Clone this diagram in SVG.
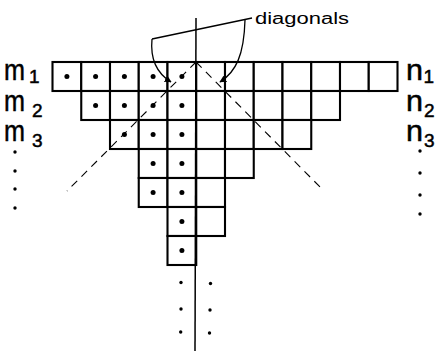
<svg xmlns="http://www.w3.org/2000/svg" width="446" height="351" viewBox="0 0 446 351">
<defs>
<style>
.cell{fill:#fff;stroke:#000;stroke-width:2.1}
.dot{fill:#000}
.lbl{font-family:"Liberation Sans",Arial,sans-serif;fill:#000;stroke:#000;stroke-width:0.5}
.big{font-size:30px}
.sub{font-size:19px}
.cap{font-family:"Liberation Sans",Arial,sans-serif;fill:#000;font-size:16px}
.ln{fill:none;stroke:#000;stroke-width:1.3}
.dash{fill:none;stroke:#000;stroke-width:1.1;stroke-dasharray:8 6}
</style>
<marker id="ah" viewBox="0 0 10 10" refX="9" refY="5" markerWidth="7" markerHeight="7" orient="auto" markerUnits="userSpaceOnUse">
<path d="M0,0 L10,5 L0,10 z" fill="#000"/>
</marker>
</defs>
<rect width="446" height="351" fill="#fff"/>

<g id="row1">
<rect class="cell" x="52.5" y="62" width="28.75" height="29"/>
<rect class="cell" x="81.25" y="62" width="28.75" height="29"/>
<rect class="cell" x="110" y="62" width="28.75" height="29"/>
<rect class="cell" x="138.75" y="62" width="28.75" height="29"/>
<rect class="cell" x="167.5" y="62" width="28.75" height="29"/>
<rect class="cell" x="196.25" y="62" width="28.75" height="29"/>
<rect class="cell" x="225" y="62" width="28.75" height="29"/>
<rect class="cell" x="253.75" y="62" width="28.75" height="29"/>
<rect class="cell" x="282.5" y="62" width="28.75" height="29"/>
<rect class="cell" x="311.25" y="62" width="28.75" height="29"/>
<rect class="cell" x="340" y="62" width="28.75" height="29"/>
<rect class="cell" x="368.75" y="62" width="28.75" height="29"/>
<circle class="dot" cx="66.9" cy="76.5" r="2.5"/>
<circle class="dot" cx="95.6" cy="76.5" r="2.5"/>
<circle class="dot" cx="124.4" cy="76.5" r="2.5"/>
<circle class="dot" cx="153.1" cy="76.5" r="2.5"/>
<circle class="dot" cx="181.9" cy="76.5" r="2.5"/>
</g>

<g id="row2">
<rect class="cell" x="81.25" y="91" width="28.75" height="29"/>
<rect class="cell" x="110" y="91" width="28.75" height="29"/>
<rect class="cell" x="138.75" y="91" width="28.75" height="29"/>
<rect class="cell" x="167.5" y="91" width="28.75" height="29"/>
<rect class="cell" x="196.25" y="91" width="28.75" height="29"/>
<rect class="cell" x="225" y="91" width="28.75" height="29"/>
<rect class="cell" x="253.75" y="91" width="28.75" height="29"/>
<rect class="cell" x="282.5" y="91" width="28.75" height="29"/>
<rect class="cell" x="311.25" y="91" width="28.75" height="29"/>
<circle class="dot" cx="95.6" cy="105.5" r="2.5"/>
<circle class="dot" cx="124.4" cy="105.5" r="2.5"/>
<circle class="dot" cx="153.1" cy="105.5" r="2.5"/>
<circle class="dot" cx="181.9" cy="105.5" r="2.5"/>
</g>

<g id="row3">
<rect class="cell" x="110" y="120" width="28.75" height="29"/>
<rect class="cell" x="138.75" y="120" width="28.75" height="29"/>
<rect class="cell" x="167.5" y="120" width="28.75" height="29"/>
<rect class="cell" x="196.25" y="120" width="28.75" height="29"/>
<rect class="cell" x="225" y="120" width="28.75" height="29"/>
<rect class="cell" x="253.75" y="120" width="28.75" height="29"/>
<rect class="cell" x="282.5" y="120" width="28.75" height="29"/>
<circle class="dot" cx="124.4" cy="134.5" r="2.5"/>
<circle class="dot" cx="153.1" cy="134.5" r="2.5"/>
<circle class="dot" cx="181.9" cy="134.5" r="2.5"/>
</g>

<g id="row4">
<rect class="cell" x="138.75" y="149" width="28.75" height="29"/>
<rect class="cell" x="167.5" y="149" width="28.75" height="29"/>
<rect class="cell" x="196.25" y="149" width="28.75" height="29"/>
<rect class="cell" x="225" y="149" width="28.75" height="29"/>
<circle class="dot" cx="153.1" cy="163.5" r="2.5"/>
<circle class="dot" cx="181.9" cy="163.5" r="2.5"/>
</g>

<g id="row5">
<rect class="cell" x="138.75" y="178" width="28.75" height="29"/>
<rect class="cell" x="167.5" y="178" width="28.75" height="29"/>
<rect class="cell" x="196.25" y="178" width="28.75" height="29"/>
<circle class="dot" cx="153.1" cy="192.5" r="2.5"/>
<circle class="dot" cx="181.9" cy="192.5" r="2.5"/>
</g>

<g id="row6">
<rect class="cell" x="167.5" y="207" width="28.75" height="29"/>
<rect class="cell" x="196.25" y="207" width="28.75" height="29"/>
<circle class="dot" cx="181.9" cy="221.5" r="2.5"/>
</g>

<g id="row7">
<rect class="cell" x="167.5" y="236" width="28.75" height="29"/>
<circle class="dot" cx="181.9" cy="250.5" r="2.5"/>
</g>

<g id="continuation">
<circle class="dot" cx="181" cy="282.5" r="1.7"/>
<circle class="dot" cx="210.5" cy="283.5" r="1.7"/>
<circle class="dot" cx="181" cy="309" r="1.7"/>
<circle class="dot" cx="210" cy="310" r="1.7"/>
<circle class="dot" cx="180.7" cy="332" r="1.7"/>
<circle class="dot" cx="209.5" cy="333" r="1.7"/>
</g>

<g id="labels-m">
<text class="lbl big" x="4" y="80" textLength="21" lengthAdjust="spacingAndGlyphs">m</text>
<text class="lbl sub" x="29" y="83">1</text>
<text class="lbl big" x="4" y="111" textLength="21" lengthAdjust="spacingAndGlyphs">m</text>
<text class="lbl sub" x="32" y="117">2</text>
<text class="lbl big" x="4" y="141" textLength="21" lengthAdjust="spacingAndGlyphs">m</text>
<text class="lbl sub" x="32" y="147">3</text>
<circle class="dot" cx="15" cy="152" r="1.7"/>
<circle class="dot" cx="15" cy="171" r="1.7"/>
<circle class="dot" cx="15" cy="189" r="1.7"/>
<circle class="dot" cx="15" cy="208" r="1.7"/>
</g>

<g id="labels-n">
<text class="lbl big" x="406" y="80" textLength="17" lengthAdjust="spacingAndGlyphs">n</text>
<text class="lbl sub" x="423.5" y="83">1</text>
<text class="lbl big" x="406" y="111" textLength="17" lengthAdjust="spacingAndGlyphs">n</text>
<text class="lbl sub" x="424" y="117">2</text>
<text class="lbl big" x="406" y="141" textLength="17" lengthAdjust="spacingAndGlyphs">n</text>
<text class="lbl sub" x="424" y="147">3</text>
<circle class="dot" cx="420" cy="151" r="1.7"/>
<circle class="dot" cx="420" cy="173" r="1.7"/>
<circle class="dot" cx="420" cy="195" r="1.7"/>
<circle class="dot" cx="420" cy="214" r="1.7"/>
</g>

<g id="diagonals-label">
<text class="cap" x="255" y="24" textLength="94" lengthAdjust="spacingAndGlyphs">diagonals</text>
</g>

<g id="connectors">
<line x1="196" y1="18" x2="195" y2="351" stroke="#000" stroke-width="1.5"/>
<line class="dash" x1="196" y1="62" x2="67" y2="191"/>
<line class="dash" x1="196" y1="62" x2="324" y2="191"/>
<path class="ln" d="M152,39 L252,18"/>
<path class="ln" d="M152,39 C150,60 158,74 171,82" marker-end="url(#ah)"/>
<path class="ln" d="M245,20 C244,55 236,72 220,82" marker-end="url(#ah)"/>
</g>
</svg>
